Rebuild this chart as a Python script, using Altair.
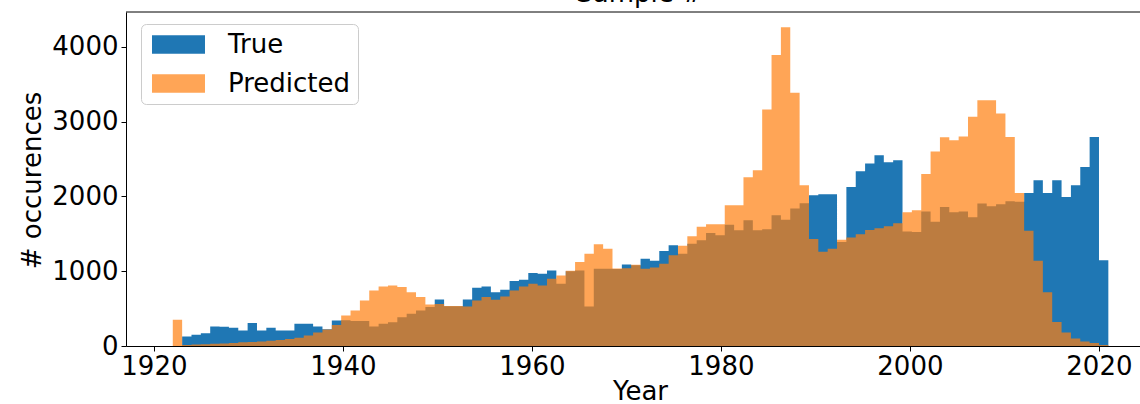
import altair as alt
import pandas as pd

# ---- data ----
BIN_START = 1922.0
BIN_WIDTH = 0.99

true_counts = [
    0, 127, 150, 172, 261, 258, 244, 208, 306, 208,
    244, 208, 208, 297, 297, 261, 225, 340, 345, 333,
    333, 261, 297, 319, 386, 431, 475, 520, 623, 530,
    530, 623, 779, 797, 720, 752, 868, 886, 975, 965,
    1011, 833, 1000, 1011, 529, 1033, 1033, 1030, 1091, 1080,
    1167, 1140, 1270, 1346, 1234, 1368, 1413, 1510, 1480, 1620,
    1547, 1680, 1547, 1560, 1747, 1689, 1837, 1908, 2015, 2029,
    2029, 1390, 2126, 2335, 2440, 2551, 2458, 2484, 1530, 1524,
    1800, 1660, 1860, 1790, 1800, 1720, 1905, 1870, 1895, 1935,
    1930, 2046, 2216, 2046, 2216, 1993, 2149, 2394, 2796, 1145,
]

pred_counts = [
    350, 15, 20, 25, 30, 35, 40, 50, 55, 60,
    70, 80, 95, 110, 140, 180, 220, 280, 408, 475,
    609, 743, 797, 810, 788, 720, 654, 556, 560, 535,
    535, 529, 609, 654, 618, 663, 743, 797, 833, 810,
    900, 944, 1005, 1122, 1234, 1359, 1301, 1035, 1040, 1085,
    1033, 1050, 1100, 1212, 1340, 1466, 1595, 1627, 1627, 1881,
    1881, 2255, 2350, 3163, 3890, 4261, 3385, 2149, 1430, 1260,
    1300, 1420, 1450, 1495, 1550, 1575, 1600, 1640, 1790, 1814,
    2300, 2600, 2790, 2752, 2800, 3064, 3287, 3287, 3109, 2796,
    2046, 1540, 1140, 720, 320, 180, 100, 60, 40, 15,
]

series_names = ["True", "Predicted"]
series_colors = ["#1f77b4", "#ff7f0e"]
series_opacity = [1.0, 0.7]
x_ticks = [1920, 1940, 1960, 1980, 2000, 2020]
y_ticks = [0, 1000, 2000, 3000, 4000]
title_text = "Sample #"
x_title = "Year"
y_title = "# occurences"

rows = []
for name, counts in zip(series_names, [true_counts, pred_counts]):
    for k, c in enumerate(counts):
        rows.append({"edge": BIN_START + k * BIN_WIDTH, "count": c, "series": name})
    rows.append({"edge": BIN_START + len(counts) * BIN_WIDTH, "count": 0, "series": name})
df = pd.DataFrame(rows)

W, H = 1014, 334
FONT = "DejaVu Sans"

legend = alt.Legend(
    orient="none", legendX=15, legendY=12, direction="vertical",
    symbolType="M-2,-0.7H2V0.7H-2Z", symbolSize=702, symbolStrokeWidth=0,
    symbolOffset=17,
    labelFontSize=26, labelFont=FONT, labelColor="black", labelOffset=36,
    rowPadding=12, padding=7, strokeColor="#cccccc", fillColor="white",
    cornerRadius=5,
)

x_enc = alt.X(
    "edge:Q",
    scale=alt.Scale(domain=[1917.05, 2024.35], nice=False, zero=False),
    axis=alt.Axis(values=x_ticks, format="d", title=x_title, grid=False,
                  tickSize=5, labelPadding=2, labelFlush=False,
                  titleX=514, titleY=53, titleBaseline="alphabetic", titleAlign="center"),
)
y_enc = alt.Y(
    "count:Q", stack=False,
    scale=alt.Scale(domain=[0, 4466], nice=False),
    axis=alt.Axis(values=y_ticks, format="d", title=y_title, grid=False,
                  tickSize=5, labelPadding=3,
                  titleX=-86, titleY=168, titleBaseline="alphabetic", titleAlign="center"),
)
color_enc = alt.Color("series:N", scale=alt.Scale(domain=series_names, range=series_colors),
                      title=None, legend=legend)
opacity_enc = alt.Opacity("series:N", scale=alt.Scale(domain=series_names, range=series_opacity),
                          title=None, legend=legend)

base = alt.Chart(df)
true_area = base.transform_filter(alt.datum.series == "True").mark_area(
    interpolate="step-after").encode(x=x_enc, y=y_enc, color=color_enc, opacity=opacity_enc)
pred_area = base.transform_filter(alt.datum.series == "Predicted").mark_area(
    interpolate="step-after").encode(x=x_enc, y=y_enc, color=color_enc, opacity=opacity_enc)

frame_top = alt.Chart(pd.DataFrame({"a": [0]})).mark_rule(color="black", strokeWidth=1).encode(
    x=alt.value(0), x2=alt.value(W), y=alt.value(0))

title_mark = alt.Chart(pd.DataFrame({"label": [title_text]})).mark_text(
    font=FONT, fontSize=26, color="black", align="center", baseline="alphabetic"
).encode(text="label:N", x=alt.value(514), y=alt.value(-10))

chart = alt.layer(true_area, pred_area, frame_top, title_mark).properties(
    width=W, height=H,
    padding={"left": 126, "top": 12, "right": 0, "bottom": 58},
    autosize=alt.AutoSizeParams(type="none"),
    background="white",
).configure_view(stroke="transparent").configure_axis(
    domainColor="black", domainWidth=1, tickColor="black", tickWidth=1,
    labelFont=FONT, labelFontSize=26, labelColor="black",
    titleFont=FONT, titleFontSize=26, titleColor="black", titleFontWeight="normal",
)

chart.save("out.html", embed_options={"renderer": "svg", "actions": False})
